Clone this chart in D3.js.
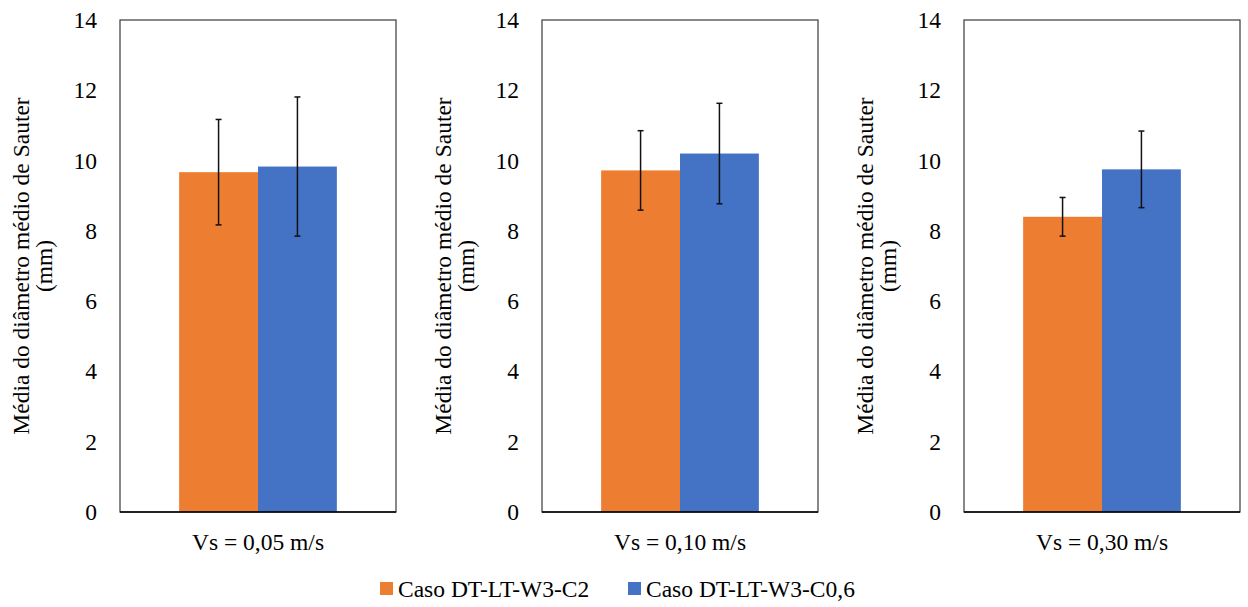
<!DOCTYPE html>
<html>
<head>
<meta charset="utf-8">
<script src="https://cdn.jsdelivr.net/npm/d3@7"></script>
<style>
  body { margin: 0; background: #fff; }
</style>
</head>
<body>
<svg width="1248" height="607"></svg>
<script>
const panels = ['Vs = 0,05 m/s', 'Vs = 0,10 m/s', 'Vs = 0,30 m/s']
const seriesNames = ['Caso DT-LT-W3-C2', 'Caso DT-LT-W3-C0,6']
const colors = ['#ED7D31', '#4472C4']
// mean values per panel [C2, C0,6]
const means = [[9.67, 9.83], [9.72, 10.20], [8.40, 9.75]]
const errors = [[1.50, 1.98], [1.13, 1.43], [0.55, 1.09]]
const yTicks = [0, 2, 4, 6, 8, 10, 12, 14]

const svg = d3.select('svg')

const panelLeft = [120, 542, 964]
const plotW = 276
const plotTop = 20, plotBottom = 512
const fontFam = 'Liberation Serif, DejaVu Serif, Times New Roman, serif'
const fontSize = '23.5px'

const yScale = d3.scaleLinear()
    .domain([0, 14])
    .range([plotBottom, plotTop])

const styleText = sel => sel
    .attr('font-family', fontFam)
    .style('font-family', fontFam)
    .style('font-size', fontSize)
    .attr('fill', '#000')

panels.forEach((label, i) => {
    const g = svg.append('g').attr('transform', `translate(${panelLeft[i]},0)`)

    const xScale = d3.scaleBand()
        .domain([label])
        .range([0, plotW])
        .paddingInner(0)
        .paddingOuter(0.375) // gap width 150%

    const sub = d3.scaleBand()
        .domain(seriesNames)
        .range([0, xScale.bandwidth()])

    const data = seriesNames.map((s, j) => ({s, v: means[i][j], e: errors[i][j], c: colors[j]}))

    g.selectAll('rect.bar')
        .data(data)
        .enter()
        .append('rect')
        .classed('bar', true)
        .attr('x', d => xScale(label) + sub(d.s))
        .attr('y', d => yScale(d.v))
        .attr('width', sub.bandwidth())
        .attr('height', d => plotBottom - yScale(d.v))
        .attr('fill', d => d.c)

    // frame
    g.append('rect')
        .attr('x', 0).attr('y', plotTop)
        .attr('width', plotW).attr('height', plotBottom - plotTop)
        .attr('fill', 'none')
        .attr('stroke', '#3a3a3a')
        .attr('stroke-width', 1.2)

    g.append('line')
        .attr('x1', 0).attr('x2', plotW)
        .attr('y1', plotBottom).attr('y2', plotBottom)
        .attr('stroke', '#000').attr('stroke-width', 1.5)

    // error bars
    const eb = g.selectAll('g.err')
        .data(data)
        .enter()
        .append('g')
        .classed('err', true)
        .attr('stroke', '#111')
        .attr('stroke-width', 1.5)
    const cx = d => xScale(label) + sub(d.s) + sub.bandwidth() / 2
    eb.append('line')
        .attr('x1', cx).attr('x2', cx)
        .attr('y1', d => yScale(d.v + d.e))
        .attr('y2', d => yScale(d.v - d.e))
    eb.append('line')
        .attr('x1', d => cx(d) - 3).attr('x2', d => cx(d) + 3)
        .attr('y1', d => yScale(d.v + d.e)).attr('y2', d => yScale(d.v + d.e))
    eb.append('line')
        .attr('x1', d => cx(d) - 3).attr('x2', d => cx(d) + 3)
        .attr('y1', d => yScale(d.v - d.e)).attr('y2', d => yScale(d.v - d.e))

    // y axis labels
    const yAxis = d3.axisLeft(yScale)
        .tickValues(yTicks)
        .tickSize(0)
        .tickPadding(23)
    const ya = g.append('g').call(yAxis)
    ya.attr('font-family', fontFam).attr('font-size', fontSize)
    ya.select('.domain').remove()
    ya.selectAll('text').call(styleText)

    // x category label
    const xAxis = d3.axisBottom(xScale).tickSize(0).tickPadding(21)
    const xa = g.append('g').attr('transform', `translate(0,${plotBottom})`).call(xAxis)
    xa.attr('font-family', fontFam).attr('font-size', fontSize)
    xa.select('.domain').remove()
    xa.selectAll('text').call(styleText)

    // y title
    const t = g.append('text')
        .attr('transform', `translate(-98,${(plotTop + plotBottom) / 2}) rotate(-90)`)
        .attr('text-anchor', 'middle')
        .call(styleText)
    t.append('tspan').attr('x', 0).attr('dy', 7).text('Média do diâmetro médio de Sauter')
    t.append('tspan').attr('x', 0).attr('dy', 23).text('(mm)')
})

// legend
const legend = svg.append('g').attr('transform', 'translate(380,589)')
const legX = [0, 248]
seriesNames.forEach((s, j) => {
    legend.append('rect')
        .attr('x', legX[j]).attr('y', -7)
        .attr('width', 13).attr('height', 13)
        .attr('fill', colors[j])
    legend.append('text')
        .attr('x', legX[j] + 18).attr('y', 8)
        .call(styleText)
        .text(s)
})
</script>
</body>
</html>
